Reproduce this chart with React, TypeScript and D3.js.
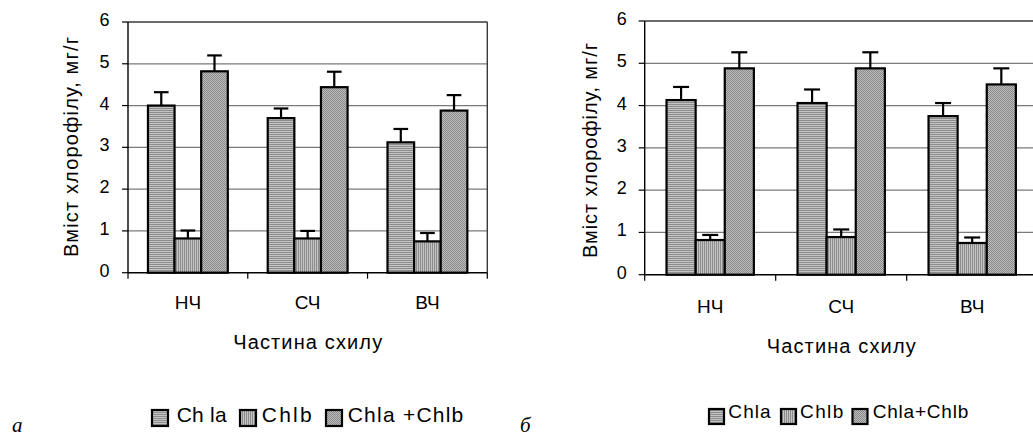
import React from "react";
import * as d3 from "d3";

const categories = ["НЧ", "СЧ", "ВЧ"];
const seriesNames = ["Chla", "Chlb", "Chla+Chlb"];
const legendLabelsA = ["Ch la", "Chlb", "Chla +Chlb"];
const legendLabelsB = ["Chla", "Chlb", "Chla+Chlb"];
const yTicks = [0, 1, 2, 3, 4, 5, 6];

// Panel а
const chlaA = [4.0, 3.7, 3.12];
const chlaErrA = [0.32, 0.23, 0.32];
const chlbA = [0.82, 0.82, 0.75];
const chlbErrA = [0.19, 0.18, 0.2];
const sumA = [4.82, 4.44, 3.88];
const sumErrA = [0.38, 0.37, 0.37];

// Panel б
const chlaB = [4.13, 4.06, 3.75];
const chlaErrB = [0.31, 0.32, 0.31];
const chlbB = [0.82, 0.89, 0.75];
const chlbErrB = [0.12, 0.18, 0.13];
const sumB = [4.88, 4.88, 4.5];
const sumErrB = [0.38, 0.38, 0.38];

const patterns = ["url(#hstripe)", "url(#vstripe)", "url(#dots)"];

type PanelProps = {
  x0: number; x1: number; yTop: number; yBot: number;
  values: number[][]; errors: number[][];
  yLabel: { x: number; y: number; len: number };
  catBaseline: number;
  title: { y: number; len: number };
  legend: { baseline: number; items: { sq: number; tx: number; len: number }[]; sqTop: number; sqSize: number; fs: number };
  legendLabels: string[];
  tickRight: number;
  letter: { text: string; x: number; y: number };
};

function Panel(p: PanelProps) {
  const x = d3.scaleBand<string>().domain(categories).range([p.x0, p.x1]).paddingInner(0).paddingOuter(0);
  const inner = d3.scaleBand<string>().domain(seriesNames).range([0, x.bandwidth()]).paddingInner(0).paddingOuter(0.75);
  const y = d3.scaleLinear().domain([0, 6]).range([p.yBot, p.yTop]);
  const bw = inner.bandwidth();
  const cap = bw * 0.55;
  const boundaries = categories.map((c) => x(c)!).concat([p.x1]);
  return (
    <g fontFamily="Arial, 'Liberation Sans', sans-serif" fill="#000">
      {yTicks.filter((t) => t > 0 && t < 6).map((t) => (
        <line key={t} x1={p.x0} x2={p.x1} y1={y(t)} y2={y(t)} stroke="#7a7a7a" strokeWidth={1.2} />
      ))}
      <line x1={p.x0} x2={p.x1} y1={y(6)} y2={y(6)} stroke="#3a3a3a" strokeWidth={1.6} />
      <line x1={p.x1} x2={p.x1} y1={y(6)} y2={y(0)} stroke="#3a3a3a" strokeWidth={1.4} />
      {categories.map((c, ci) =>
        seriesNames.map((s, si) => {
          const v = p.values[si][ci];
          const bx = x(c)! + inner(s)!;
          return (
            <rect key={c + s} x={bx} y={y(v)} width={bw} height={y(0) - y(v)}
              fill={patterns[si]} stroke="#000" strokeWidth={2.2} />
          );
        })
      )}
      {categories.map((c, ci) =>
        seriesNames.map((s, si) => {
          const v = p.values[si][ci];
          const e = p.errors[si][ci];
          const cx = x(c)! + inner(s)! + bw / 2;
          return (
            <g key={"e" + c + s} stroke="#000" strokeWidth={2.2}>
              <line x1={cx} x2={cx} y1={y(v)} y2={y(v + e)} />
              <line x1={cx - cap / 2} x2={cx + cap / 2} y1={y(v + e)} y2={y(v + e)} />
            </g>
          );
        })
      )}
      <line x1={p.x0} x2={p.x0} y1={y(6)} y2={y(0)} stroke="#000" strokeWidth={1.4} />
      <line x1={p.x0} x2={p.x1} y1={y(0)} y2={y(0)} stroke="#000" strokeWidth={1.4} />
      {yTicks.map((t) => (
        <g key={"t" + t}>
          <line x1={p.x0 - 6} x2={p.x0} y1={y(t)} y2={y(t)} stroke="#000" strokeWidth={1.2} />
          <text x={p.tickRight} y={y(t) - 2} textAnchor="end" dominantBaseline="central" fontSize={18}>{t}</text>
        </g>
      ))}
      {boundaries.map((bx, i) => (
        <line key={"xt" + i} x1={bx} x2={bx} y1={y(0)} y2={y(0) + 6} stroke="#000" strokeWidth={1.2} />
      ))}
      {categories.map((c) => (
        <text key={"c" + c} x={x(c)! + x.bandwidth() / 2} y={p.catBaseline} textAnchor="middle" fontSize={19}>{c}</text>
      ))}
      <text x={(p.x0 + p.x1) / 2} y={p.title.y} textAnchor="middle" fontSize={20}
        textLength={p.title.len} lengthAdjust="spacing">Частина схилу</text>
      <text transform={`translate(${p.yLabel.x},${p.yLabel.y}) rotate(-90)`} textAnchor="middle" fontSize={20}
        textLength={p.yLabel.len} lengthAdjust="spacing">Вміст хлорофілу, мг/г</text>
      {p.legend.items.map((it, i) => (
        <g key={"l" + i}>
          <rect x={it.sq} y={p.legend.sqTop} width={p.legend.sqSize} height={p.legend.sqSize}
            fill={patterns[i]} stroke="#000" strokeWidth={2.2} />
          <text x={it.tx} y={p.legend.baseline} fontSize={p.legend.fs} textLength={it.len} lengthAdjust="spacing">{p.legendLabels[i]}</text>
        </g>
      ))}
      <text x={p.letter.x} y={p.letter.y} fontFamily="'Liberation Serif', 'DejaVu Serif', serif" fontStyle="italic" fontSize={21}>{p.letter.text}</text>
    </g>
  );
}

export default function App() {
  return (
    <svg width={1033} height={438} style={{ position: "absolute", left: 0, top: 0, background: "#fff" }}>
      <defs>
        <pattern id="hstripe" width={2} height={2} patternUnits="userSpaceOnUse">
          <rect width={2} height={2} fill="#c4c4c4" />
          <rect width={2} height={1} fill="#8c8c8c" />
        </pattern>
        <pattern id="vstripe" width={2} height={2} patternUnits="userSpaceOnUse">
          <rect width={2} height={2} fill="#c4c4c4" />
          <rect width={1} height={2} fill="#8c8c8c" />
        </pattern>
        <pattern id="dots" width={2} height={2} patternUnits="userSpaceOnUse">
          <rect width={2} height={2} fill="#bdbdbd" />
          <rect width={1} height={1} fill="#888" />
          <rect x={1} y={1} width={1} height={1} fill="#888" />
        </pattern>
      </defs>
      <rect width={1033} height={438} fill="#fff" />
      <Panel
        x0={128} x1={487.3} yTop={22} yBot={272.7}
        values={[chlaA, chlbA, sumA]} errors={[chlaErrA, chlbErrA, sumErrA]}
        yLabel={{ x: 78, y: 147, len: 220 }}
        catBaseline={309}
        title={{ y: 349, len: 149 }}
        legend={{ baseline: 422, sqTop: 410, sqSize: 16, fs: 21, items: [
          { sq: 152, tx: 176.7, len: 50 },
          { sq: 240, tx: 261.7, len: 50 },
          { sq: 326, tx: 347.7, len: 115.6 },
        ] }}
        legendLabels={legendLabelsA}
        tickRight={109.5}
        letter={{ text: "а", x: 12, y: 432 }}
      />
      <Panel
        x0={644.7} x1={1037.7} yTop={21} yBot={274.7}
        values={[chlaB, chlbB, sumB]} errors={[chlaErrB, chlbErrB, sumErrB]}
        yLabel={{ x: 597, y: 150.5, len: 215 }}
        catBaseline={313}
        title={{ y: 353, len: 149 }}
        legend={{ baseline: 418, sqTop: 409, sqSize: 15, fs: 19, items: [
          { sq: 709, tx: 728.3, len: 42.4 },
          { sq: 781, tx: 800, len: 43.3 },
          { sq: 852.5, tx: 872.7, len: 95.6 },
        ] }}
        legendLabels={legendLabelsB}
        tickRight={626.7}
        letter={{ text: "б", x: 520, y: 432 }}
      />
    </svg>
  );
}
